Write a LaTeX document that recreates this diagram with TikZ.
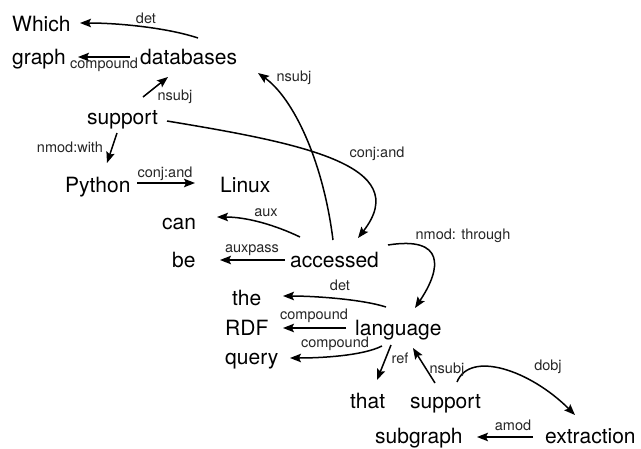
\documentclass[tikz,border=0pt]{standalone}
\usepackage{fontspec}
\setmainfont{TeX Gyre Heros}
\usetikzlibrary{arrows.meta}

\tikzset{
  word/.style={anchor=base west, inner sep=0pt, font=\fontsize{21}{25}\selectfont},
  lbl/.style={anchor=base, inner sep=0pt, text=black!85, font=\fontsize{14.5}{17}\selectfont},
  dep/.style={line width=1.5pt, -{Stealth[length=11pt,width=8.5pt,inset=2pt]}}
}

\begin{document}
\begin{tikzpicture}[x=1pt, y=-1pt]
  \fill[white] (0,0) rectangle (641,448);
  \useasboundingbox (0,0) rectangle (641,448);

  % words of the sentence
  \node[word] (w1)  at (12,31)   {Which};
  \node[word] (w2)  at (12,64)   {graph};
  \node[word] (w3)  at (140,64)  {databases};
  \node[word] (w4)  at (87,124)  {support};
  \node[word] (w5)  at (65,192)  {Python};
  \node[word] (w6)  at (220,192) {Linux};
  \node[word] (w7)  at (162,229) {can};
  \node[word] (w8)  at (172,267) {be};
  \node[word] (w9)  at (290,267) {accessed};
  \node[word] (w10) at (232,305) {the};
  \node[word] (w11) at (225,335) {RDF};
  \node[word] (w12) at (355,335) {language};
  \node[word] (w13) at (225,364) {query};
  \node[word] (w14) at (350,408) {that};
  \node[word] (w15) at (410,408) {support};
  \node[word] (w16) at (375,443) {subgraph};
  \node[word] (w17) at (545,443) {extraction};

  % dependency arcs
  \draw[dep] ([shift={(58,-26)}]w3.base west) .. controls +(-30,-10) and +(40,0) .. ([shift={(68,-8)}]w1.base west);
  \draw[dep] ([shift={(-10,-7)}]w3.base west) -- ([shift={(66,-7)}]w2.base west);
  \draw[dep] ([shift={(56,-27)}]w4.base west) -- ([shift={(28,13)}]w3.base west);
  \draw[dep] ([shift={(30,9)}]w4.base west) -- ([shift={(42,-29)}]w5.base west);
  \draw[dep] ([shift={(72,-9)}]w5.base west) -- ([shift={(-25,-9)}]w6.base west);
  \draw[dep] ([shift={(80,-3)}]w4.base west) .. controls +(133,22) and +(57,-73) .. ([shift={(68,-29)}]w9.base west);
  \draw[dep] ([shift={(43,-27)}]w9.base west) .. controls +(-10,-80) and +(35,25) .. ([shift={(118,9)}]w3.base west);
  \draw[dep] ([shift={(10,-30)}]w9.base west) .. controls +(-25,-12) and +(30,0) .. ([shift={(55,-12)}]w7.base west);
  \draw[dep] ([shift={(-5,-7)}]w9.base west) -- ([shift={(48,-7)}]w8.base west);
  \draw[dep] ([shift={(98,-22)}]w9.base west) .. controls +(57,-9) and +(27,-40) .. ([shift={(60,-27)}]w12.base west);
  \draw[dep] ([shift={(31,-28)}]w12.base west) .. controls +(-25,-8) and +(30,0) .. ([shift={(51,-9)}]w10.base west);
  \draw[dep] ([shift={(-9,-7)}]w12.base west) -- ([shift={(58,-7)}]w11.base west);
  \draw[dep] ([shift={(27,11)}]w12.base west) .. controls +(-20,10) and +(30,0) .. ([shift={(65,-6)}]w13.base west);
  \draw[dep] ([shift={(36,10)}]w12.base west) -- ([shift={(27,-28)}]w14.base west);
  \draw[dep] ([shift={(25,-25)}]w15.base west) -- ([shift={(58,13)}]w12.base west);
  \draw[dep] ([shift={(47,-26)}]w15.base west) .. controls +(13,-32) and +(-45,-45) .. ([shift={(30,-28)}]w17.base west);
  \draw[dep] ([shift={(-12,-6)}]w17.base west) -- ([shift={(102,-6)}]w16.base west);

  % relation labels
  \node[lbl] (l1)  at (146,23)  {det};
  \node[lbl] (l2)  at (104,68)  {compound};
  \node[lbl] (l3)  at (175,100) {nsubj};
  \node[lbl] (l4)  at (70,152)  {nmod:with};
  \node[lbl] (l5)  at (165,177) {conj:and};
  \node[lbl] (l6)  at (377,157) {conj:and};
  \node[lbl] (l7)  at (294,81)  {nsubj};
  \node[lbl] (l8)  at (266,216) {aux};
  \node[lbl] (l9)  at (252,252) {auxpass};
  \node[lbl] (l10) at (463,239) {nmod: through};
  \node[lbl] (l11) at (340,290) {det};
  \node[lbl] (l12) at (314,319) {compound};
  \node[lbl] (l13) at (335,347) {compound};
  \node[lbl] (l14) at (400,363) {ref};
  \node[lbl] (l15) at (447,373) {nsubj};
  \node[lbl] (l16) at (548,370) {dobj};
  \node[lbl] (l17) at (513,430) {amod};
\end{tikzpicture}
\end{document}
